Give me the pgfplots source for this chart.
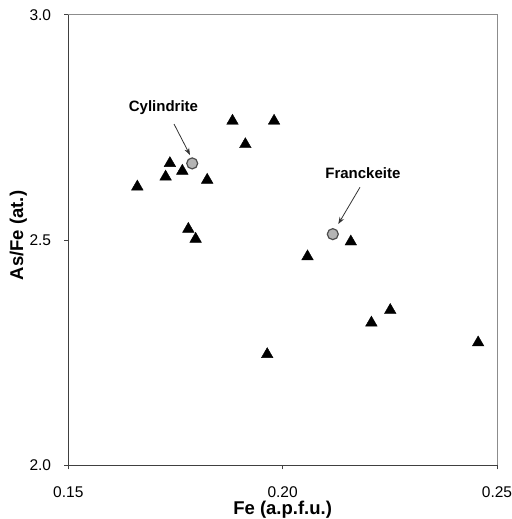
\documentclass[border=0pt]{standalone}
\usepackage{fontspec}
\setmainfont{Liberation Sans}
\usepackage{pgfplots}
\pgfplotsset{compat=1.18}
\usetikzlibrary{arrows.meta}
\definecolor{axisdark}{HTML}{404040}
\definecolor{axislight}{HTML}{8C8C8C}
\definecolor{circfill}{HTML}{B4B4B4}
\definecolor{circedge}{HTML}{4D4D4D}
\begin{document}
\begin{tikzpicture}
\begin{axis}[
  scale only axis, width=428.7pt, height=450.6pt,
  at={(0,0)}, anchor=south west,
  xmin=0.15, xmax=0.25, ymin=2, ymax=3,
  xtick={0.15,0.20,0.25}, ytick={2.0,2.5,3.0},
  axis x line*=bottom, axis y line*=left,
  axis line style={draw=axisdark, line width=0.9pt, -},
  tick style={draw=axisdark, line width=0.9pt},
  tick align=outside, major tick length=4pt,
  clip=false,
  /pgf/number format/assume math mode=true,
  x tick label style={/pgf/number format/.cd, fixed, fixed zerofill, precision=2, /tikz/.cd,
    anchor=center, inner sep=0pt, yshift=-22.5pt, font=\fontsize{15.5}{18}\selectfont},
  y tick label style={/pgf/number format/.cd, fixed, fixed zerofill, precision=1, /tikz/.cd,
    anchor=east, inner sep=0pt, xshift=-13pt, font=\fontsize{15.5}{18}\selectfont},
  xlabel={Fe (a.p.f.u.)},
  ylabel={As/Fe (at.)},
  xlabel style={at={(axis description cs:0.5,-0.0975)}, anchor=center, inner sep=0pt, font=\bfseries\fontsize{18.5}{21}\selectfont},
  ylabel style={at={(axis description cs:-0.1168,0.51)}, anchor=center, inner sep=0pt, rotate=0, font=\bfseries\fontsize{18.5}{21}\selectfont},
]
\draw[axislight, line width=0.9pt] (rel axis cs:0,1) -- (rel axis cs:1,1) -- (rel axis cs:1,0);

\addplot[only marks, mark=triangle*, mark size=6.7pt,
  mark options={fill=black, draw=black, yshift=-1.7pt}] coordinates {
  (0.1661,2.622) (0.1727,2.644) (0.1737,2.674) (0.1766,2.657)
  (0.1824,2.637) (0.1780,2.528) (0.1797,2.506) (0.1883,2.768)
  (0.1913,2.716) (0.1980,2.768) (0.2159,2.500) (0.2058,2.467)
  (0.1964,2.250) (0.2207,2.320) (0.2251,2.348) (0.2456,2.276)
};
\addplot[only marks, mark=*, mark size=5.5pt,
  mark options={fill=circfill, draw=circedge, line width=1.2pt}] coordinates {
  (0.1789,2.670) (0.2117,2.513)
};

\node[font=\bfseries\fontsize{15}{18}\selectfont] at (axis cs:0.1722,2.7945) {Cylindrite};
\draw[-{Stealth[length=7pt,width=5pt]}, line width=0.8pt, black!80] (axis cs:0.17466,2.7574) -- (axis cs:0.17839,2.6886);
\node[font=\bfseries\fontsize{15}{18}\selectfont] at (axis cs:0.21872,2.6494) {Franckeite};
\draw[-{Stealth[length=7pt,width=5pt]}, line width=0.8pt, black!80] (axis cs:0.21804,2.6170) -- (axis cs:0.21298,2.5355);
\end{axis}
\pgfresetboundingbox
\useasboundingbox (-68.3pt,-53.7pt) rectangle (442.7pt,465.3pt);
\end{tikzpicture}
\end{document}
